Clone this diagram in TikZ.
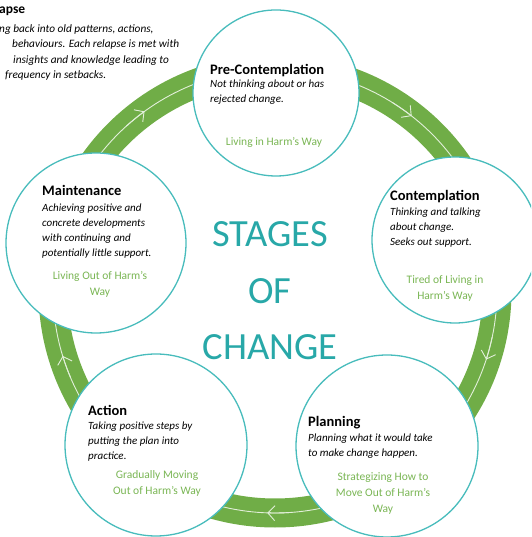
\documentclass[tikz,border=0pt]{standalone}
\usepackage{fontspec}
\setmainfont{Carlito}
\usetikzlibrary{arrows.meta, positioning}
\definecolor{cRing}{RGB}{112,173,71}
\definecolor{cEdge}{RGB}{72,188,188}
\definecolor{cTitle}{RGB}{40,168,168}
\definecolor{cSub}{RGB}{122,182,84}
\tikzset{
	stage/.style     ={circle, draw=cEdge, line width=1.3pt, fill=white, inner sep=0pt},
	stagehead/.style ={anchor=north west, align=left, inner sep=0pt, font=\bfseries\fontsize{14.5}{17}\selectfont},
	stagetext/.style ={anchor=north west, align=left, inner sep=0pt, font=\itshape\fontsize{11}{15}\selectfont},
	stagesub/.style  ={anchor=north, align=center, inner sep=0pt, text=cSub, font=\fontsize{11.5}{16}\selectfont},
	ringline/.style  ={white!80!cRing, line width=0.9pt},
	ringarrow/.style ={-{Straight Barb[length=7pt, width=15pt]}, white!80!cRing, line width=0.9pt},
}

\begin{document}
\begin{tikzpicture}[x=1pt, y=1pt]
	\useasboundingbox (0,0) rectangle (531,537);
	\clip (0,0) rectangle (531,537);
	\coordinate (ring) at (275,246);
	% the cycle
	\draw[cRing, line width=29pt] (ring) circle (222);
	\draw[ringline] (ring) circle (222);
	\foreach \a in {52,-18,-92,197,126}
		\draw[ringarrow] (ring) ++(\a+6:222) arc[start angle=\a+6, end angle=\a, radius=222];
	% relapse note, top left
	\node[stagehead, font=\bfseries\fontsize{13.5}{16}\selectfont] (relapse) at (-1,530) {apse};
	\node[stagetext, font=\itshape\fontsize{11.3}{15.5}\selectfont] (relapsetext) at (-1,513)
		{ng back into old patterns, actions,\\
		\hspace*{13pt}behaviours. Each relapse is met with\\
		\hspace*{14pt}insights and knowledge leading to\\
		\hspace*{6pt}frequency in setbacks.};
	% stages
	\node[stage, minimum size=166pt] (pre) at (276,444) {};
	\node[stage, minimum size=166pt] (contemp) at (455,297) {};
	\node[stage, minimum size=180pt] (maint) at (96,294) {};
	\node[stage, minimum size=182pt] (action) at (156,92) {};
	\node[stage, minimum size=182pt] (plan) at (387,91) {};
	\node[stagehead] (prehead) at (210,473) {Pre-Contemplation};
	\node[stagetext] (pretext) at (210,457) {Not thinking about or has\\rejected change.};
	\node[stagesub] (presub) at (274,400) {Living in Harm's Way};
	\node[stagehead] (contemphead) at (390,347) {Contemplation};
	\node[stagetext] (contemptext) at (390,329) {Thinking and talking\\about change.\\Seeks out support.};
	\node[stagesub] (contempsub) at (445,262) {Tired of Living in\\Harm's Way};
	\node[stagehead] (mainthead) at (42,352) {Maintenance};
	\node[stagetext] (mainttext) at (42,333) {Achieving positive and\\concrete developments\\with continuing and\\potentially little support.};
	\node[stagesub] (maintsub) at (100,266) {Living Out of Harm's\\Way};
	\node[stagehead] (actionhead) at (88,132) {Action};
	\node[stagetext] (actiontext) at (88,115) {Taking positive steps by\\putting the plan into\\practice.};
	\node[stagesub] (actionsub) at (157,67) {Gradually Moving\\Out of Harm's Way};
	\node[stagehead] (planhead) at (308,121) {Planning};
	\node[stagetext] (plantext) at (308,103) {Planning what it would take\\to make change happen.};
	\node[stagesub] (plansub) at (383,65) {Strategizing How to\\Move Out of Harm's\\Way};
	% centre title
	\node[align=center, text=cTitle, font=\fontsize{38.5}{56.5}\selectfont] (title) at (270,246) {STAGES\\OF\\CHANGE};
\end{tikzpicture}
\end{document}
